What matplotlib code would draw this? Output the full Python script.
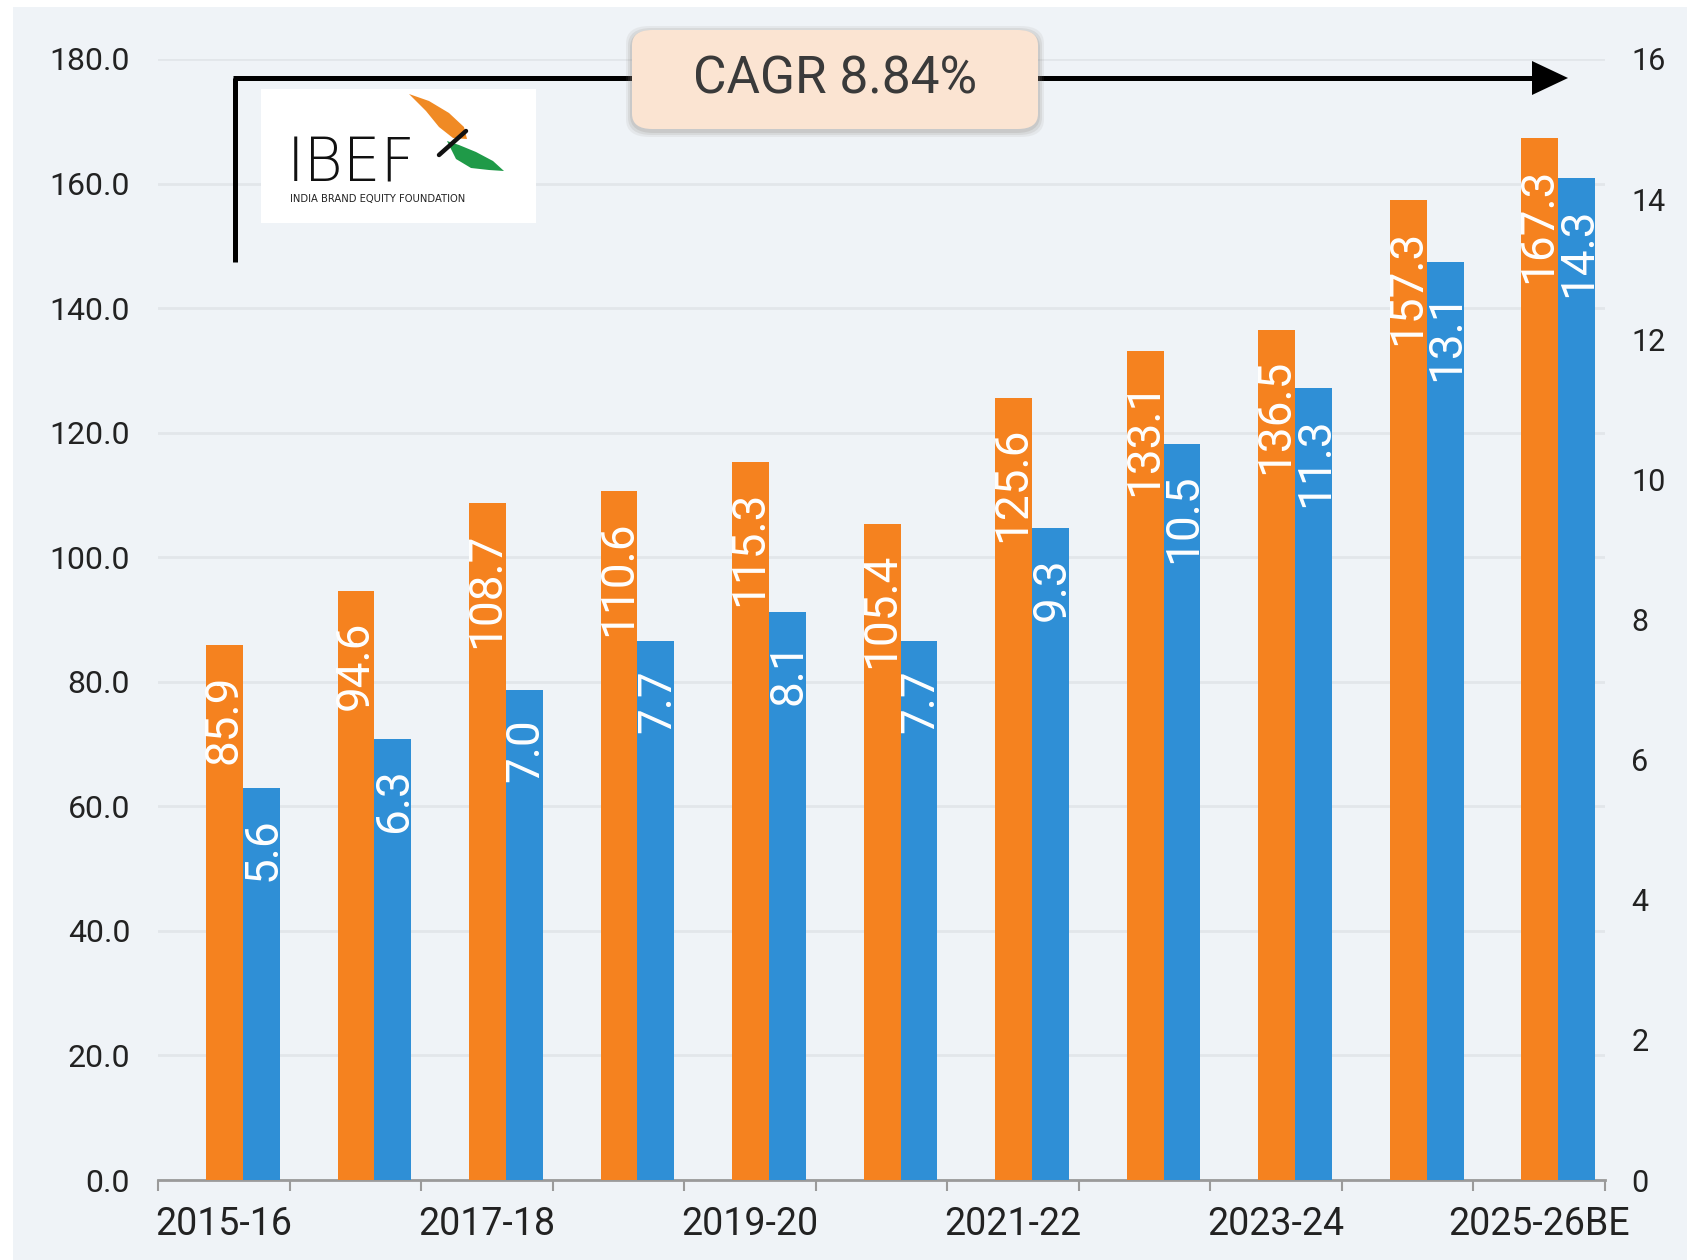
import matplotlib
matplotlib.use("Agg")
import matplotlib.pyplot as plt
import numpy as np
from matplotlib.patches import Rectangle, FancyBboxPatch, Polygon
from matplotlib.lines import Line2D

# ---------------- data ----------------
categories = ["2015-16", "2016-17", "2017-18", "2018-19", "2019-20", "2020-21",
              "2021-22", "2022-23", "2023-24", "2024-25", "2025-26BE"]
orange_values = [85.9, 94.6, 108.7, 110.6, 115.3, 105.4, 125.6, 133.1, 136.5, 157.3, 167.3]
blue_values = [5.6, 6.3, 7.0, 7.7, 8.1, 7.7, 9.3, 10.5, 11.3, 13.1, 14.3]
left_ticks = [0, 20, 40, 60, 80, 100, 120, 140, 160, 180]
right_ticks = [0, 2, 4, 6, 8, 10, 12, 14, 16]
cagr_text = "CAGR 8.84%"

# ---------------- style ----------------
W, H = 1687, 1260
BG = "#eff3f7"
ORANGE = "#f5821f"
BLUE = "#2f8fd6"
FONT = "Roboto"

def fx(px):
    return px / W

def fy(py):
    return 1 - py / H

fig = plt.figure(figsize=(W / 100, H / 100), dpi=100, facecolor="white")
fig.patches.append(Rectangle((fx(13), 0), 1 - fx(13), fy(7), transform=fig.transFigure,
                             facecolor=BG, edgecolor="none", zorder=-10))

ax = fig.add_axes([fx(158), fy(1180), fx(1605) - fx(158), fy(59) - fy(1180)])
ax.set_facecolor(BG)
ax2 = ax.twinx()

x = np.arange(len(categories))
bw = 0.28
ob = ax.bar(x + 0.005, orange_values, width=bw, color=ORANGE, zorder=3)
bb = ax2.bar(x + 0.285, blue_values, width=bw, color=BLUE, zorder=3)

ax.set_xlim(-0.5, len(categories) - 0.5)
ax.set_ylim(0, 180)
ax2.set_ylim(0, 16)

ax.set_yticks(left_ticks)
ax.set_yticklabels([f"{v:.1f}" for v in left_ticks], fontsize=23, family=FONT, color="#222222")
ax2.set_yticks(right_ticks)
ax2.set_yticklabels([str(v) for v in right_ticks], fontsize=22, family=FONT, color="#222222")
ax.tick_params(axis="y", length=0, pad=20)
ax2.tick_params(axis="y", length=0, pad=19)

ax.set_xticks(x[::2])
ax.set_xticklabels(categories[::2], fontsize=27, family=FONT, color="#222222")
ax.set_xticks(np.arange(-0.5, len(categories)), minor=True)
ax.tick_params(axis="x", which="major", length=0, pad=19)
ax.tick_params(axis="x", which="minor", length=8, width=1.5, color="#9a9a9a")

ax.grid(axis="y", color="#e2e6ea", linewidth=2, zorder=0)
ax.set_axisbelow(True)
for a in (ax, ax2):
    for s in ("left", "right", "top"):
        a.spines[s].set_visible(False)
ax.spines["bottom"].set_color("#9a9a9a")
ax.spines["bottom"].set_linewidth(2)
ax2.spines["bottom"].set_visible(False)

# value labels
for rect, v in zip(ob, orange_values):
    ax.annotate(f"{v:.1f}", (rect.get_x() + rect.get_width() / 2 - 0.01, v), xytext=(0, -21),
                textcoords="offset points", rotation=90, ha="center", va="top",
                fontsize=33, family=FONT, color="white", zorder=5)
for rect, v in zip(bb, blue_values):
    ax2.annotate(f"{v:.1f}", (rect.get_x() + rect.get_width() / 2 + 0.01, v), xytext=(0, -21),
                 textcoords="offset points", rotation=90, ha="center", va="top",
                 fontsize=33, family=FONT, color="white", zorder=5)

# ---------------- CAGR arrow ----------------
lw = 3.6
fig.lines.append(Line2D([fx(235), fx(235)], [fy(262), fy(78)], transform=fig.transFigure,
                        color="black", linewidth=lw, solid_capstyle="butt", zorder=20))
fig.lines.append(Line2D([fx(233), fx(1540)], [fy(78), fy(78)], transform=fig.transFigure,
                        color="black", linewidth=lw, solid_capstyle="butt", zorder=20))
fig.patches.append(Polygon([(fx(1532), fy(61)), (fx(1568), fy(78)), (fx(1532), fy(95))],
                           closed=True, transform=fig.transFigure, facecolor="black",
                           edgecolor="none", zorder=21))

# CAGR box with soft shadow
for i, a in enumerate([0.10, 0.14, 0.18]):
    g = 6 - 2 * i
    fig.patches.append(FancyBboxPatch((fx(632 - g), fy(131 + g)), fx(406 + 2 * g), (99 + 2 * g) / H,
                                      boxstyle="round,pad=0,rounding_size=0.014",
                                      transform=fig.transFigure, facecolor="#8a847e",
                                      edgecolor="none", alpha=a, zorder=22))
fig.patches.append(FancyBboxPatch((fx(632), fy(129)), fx(406), 99 / H,
                                  boxstyle="round,pad=0,rounding_size=0.012",
                                  transform=fig.transFigure, facecolor="#fbe4d2",
                                  edgecolor="none", zorder=23))
fig.text(fx(835), fy(80), cagr_text, ha="center", va="center", fontsize=37,
         family=FONT, color="#3a3a3a", zorder=24)

# ---------------- logo ----------------
lax = fig.add_axes([fx(261), fy(223), fx(275), 134 / H])
lax.set_xlim(0, 275)
lax.set_ylim(134, 0)
lax.set_facecolor("white")
lax.set_xticks([])
lax.set_yticks([])
for s in lax.spines.values():
    s.set_visible(False)
lax.text(26, 92, "IBEF", fontsize=43, family="DejaVu Sans", color="#111111",
         ha="left", va="baseline", fontweight="light")
lax.text(29, 113, "INDIA BRAND EQUITY FOUNDATION", fontsize=7.2, family="DejaVu Sans",
         color="#222222", ha="left", va="baseline")
lax.add_patch(Polygon([(148, 5), (168, 12), (188, 24), (203, 38), (206, 50),
                       (192, 49), (178, 38), (165, 22)], closed=True,
                      facecolor="#f08a24", edgecolor="none"))
lax.add_patch(Polygon([(186, 52), (198, 56), (215, 63), (232, 72), (243, 82),
                       (228, 81), (210, 79), (195, 70)], closed=True,
                      facecolor="#1f9a48", edgecolor="none"))
lax.plot([178, 205], [66, 42], color="#111111", linewidth=3.2, solid_capstyle="round")

fig.savefig("out.png", dpi=100, facecolor="white")
